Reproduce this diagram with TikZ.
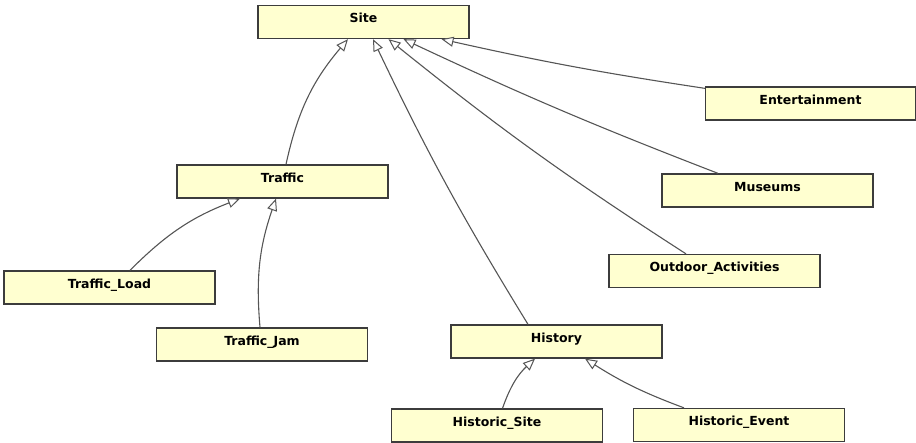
\documentclass[tikz,border=0pt]{standalone}
\usepackage{fontspec}
\setmainfont{DejaVu Sans}
\usetikzlibrary{arrows.meta}
\definecolor{boxfill}{RGB}{255,255,208}
\definecolor{boxline}{RGB}{60,60,60}
\definecolor{edgeline}{RGB}{85,85,85}
\tikzset{
  cls/.style={draw=boxline, fill=boxfill, line width=1.3pt,
    minimum width=211pt, inner xsep=0pt, inner ysep=0pt,
    text height=17.5pt, text depth=15.5pt,
    font=\bfseries\fontsize{12.5pt}{14pt}\selectfont},
  inh/.style={draw=edgeline, line width=1.1pt,
    -{Triangle[length=12pt, width=10pt, fill=white, line width=1pt]}},
}
\begin{document}
\begin{tikzpicture}[x=1pt, y=-1pt]
  \useasboundingbox (0,0) rectangle (916,443);

  % classes
  \node[cls] (site)    at (363.5, 22)   {Site};
  \node[cls] (traffic) at (282.5,181.5) {Traffic};
  \node[cls] (tload)   at (109.5,287.5) {Traffic\_Load};
  \node[cls] (tjam)    at (262,  344.5) {Traffic\_Jam};
  \node[cls] (history) at (556.5,341.5) {History};
  \node[cls] (hsite)   at (497,  425.5) {Historic\_Site};
  \node[cls] (hevent)  at (739,  425)   {Historic\_Event};
  \node[cls, minimum width=210pt] (ent) at (810.5,103.5) {Entertainment};
  \node[cls] (mus)     at (767.5,190.5) {Museums};
  \node[cls] (out)     at (714.5,271)   {Outdoor\_Activities};

  % generalisations into Site
  \draw[inh] ([xshift=3.5pt]traffic.north) to[bend left=14] ([xshift=-15.5pt]site.south);
  \draw[inh] ([xshift=-28.5pt]history.north) to[bend left=3] ([xshift=9.5pt]site.south);
  \draw[inh] ([xshift=-28.5pt]out.north) to[bend left=3] ([xshift=25pt]site.south);
  \draw[inh] ([xshift=-49.5pt]mus.north) to[bend left=2] ([xshift=40pt]site.south);
  \draw[inh] ([yshift=-2pt]ent.north west) to[bend left=2] ([xshift=78pt]site.south);

  % generalisations into Traffic
  \draw[inh] ([xshift=20.5pt]tload.north) to[bend left=12] ([xshift=-42.5pt]traffic.south);
  \draw[inh] ([xshift=-2pt]tjam.north) to[bend left=12] ([xshift=-6.5pt]traffic.south);

  % generalisations into History
  \draw[inh] ([xshift=5.5pt]hsite.north) to[bend left=14] ([xshift=-21.5pt]history.south);
  \draw[inh] ([xshift=-55pt]hevent.north) to[bend left=6] ([xshift=28.5pt]history.south);
\end{tikzpicture}
\end{document}
